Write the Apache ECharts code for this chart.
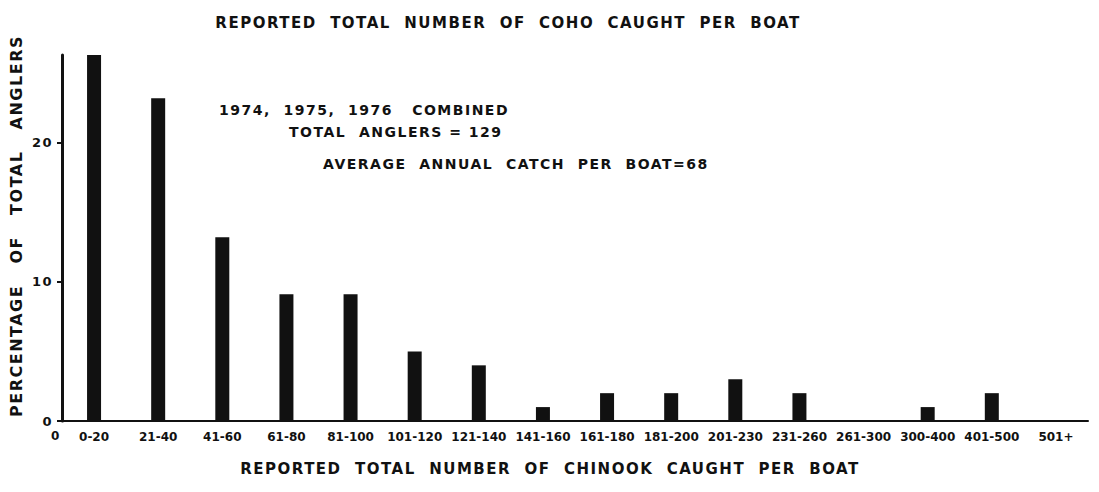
<!DOCTYPE html>
<html lang="en">
<head>
<meta charset="utf-8">
<title>Reported total number of Chinook caught per boat</title>
<script src="https://cdn.jsdelivr.net/npm/echarts@6/dist/echarts.min.js"></script>
<style>
  html, body { margin: 0; background: #fff; }
  #main { width: 1099px; height: 492px; }
  /* the lettering on the original is widely spaced */
  #main text { letter-spacing: 1.5px; }
  /* tick labels (12px) are set tighter */
  #main text[style*="12px"] { letter-spacing: 0px; }
</style>
</head>
<body>
<div id="main"></div>
<script>
// catch classes on the x axis
var catchBins = ['0-20', '21-40', '41-60', '61-80', '81-100', '101-120', '121-140', '141-160',
  '161-180', '181-200', '201-230', '231-260', '261-300', '300-400', '401-500', '501+'];
// percentage of total anglers in each class
var pctAnglers = [26.3, 23.2, 13.2, 9.1, 9.1, 5, 4, 1, 2, 2, 3, 2, 0, 1, 2, 0];
var yTicks = [0, 10, 20];
var notes = [
  '1974,  1975,  1976   COMBINED',
  'TOTAL  ANGLERS = 129',
  'AVERAGE  ANNUAL  CATCH  PER  BOAT=68'
];

var ink = '#111';
var font = 'DejaVu Sans';
var noteStyle = { fontFamily: font, fontSize: 14, fontWeight: 'bold', color: ink };

var myChart = echarts.init(document.getElementById('main'), null, { renderer: 'svg' });
var option = {
  backgroundColor: '#fff',
  animation: false,
  title: [{
    text: 'REPORTED  TOTAL  NUMBER  OF  COHO  CAUGHT  PER  BOAT',
    left: 503,
    top: 10,
    textAlign: 'center',
    textStyle: { fontFamily: font, fontSize: 15, fontWeight: 'bold', color: ink }
  }, {
    text: notes[0],
    left: 214, top: 98,
    textStyle: noteStyle
  }, {
    text: notes[1],
    left: 284, top: 120,
    textStyle: noteStyle
  }, {
    text: notes[2],
    left: 318, top: 152,
    textStyle: noteStyle
  }],
  grid: {
    left: 56,
    right: 11,
    top: 55,
    bottom: 71
  },
  xAxis: {
    type: 'category',
    data: catchBins,
    name: 'REPORTED  TOTAL  NUMBER  OF  CHINOOK  CAUGHT  PER  BOAT',
    nameLocation: 'middle',
    nameGap: 40,
    nameTextStyle: {
      fontFamily: font, fontSize: 15, fontWeight: 'bold', color: ink,
      padding: [0, 50, 0, 0]
    },
    axisLine: { lineStyle: { color: ink, width: 2 } },
    axisTick: { show: false },
    axisLabel: {
      interval: 0,
      margin: 10,
      fontFamily: font, fontSize: 12, fontWeight: 'bold', color: ink
    }
  },
  yAxis: {
    type: 'value',
    min: 0,
    max: 26.3,
    interval: 10,
    name: 'PERCENTAGE   OF   TOTAL   ANGLERS',
    nameLocation: 'middle',
    nameRotate: 90,
    nameGap: 27,
    nameTextStyle: {
      fontFamily: font, fontSize: 16, fontWeight: 'bold', color: ink,
      padding: [0, 0, 0, 24]
    },
    splitLine: { show: false },
    axisLine: { show: true, lineStyle: { color: ink, width: 3 } },
    axisTick: { show: true, length: 5, customValues: yTicks, lineStyle: { color: ink, width: 2 } },
    axisLabel: {
      customValues: yTicks,
      margin: 9,
      fontFamily: font, fontSize: 13, fontWeight: 'bold', color: ink
    }
  },
  graphic: [{
    type: 'text',
    left: 51,
    top: 430,
    style: { text: '0', fontFamily: font, fontSize: 12, fontWeight: 'bold', fill: ink }
  }],
  series: [{
    type: 'bar',
    data: pctAnglers,
    barWidth: 14,
    itemStyle: { color: ink }
  }]
};
myChart.setOption(option);
</script>
</body>
</html>
